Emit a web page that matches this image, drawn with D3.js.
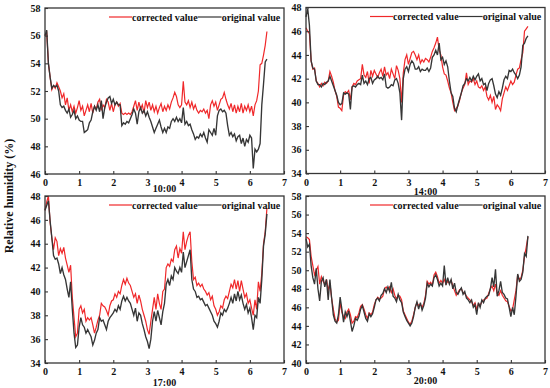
<!DOCTYPE html>
<html>
<head>
<meta charset="utf-8">
<script src="https://cdn.jsdelivr.net/npm/d3@7"></script>
<style>
body { margin: 0; background: #fff; }
text { font-family: "Liberation Serif", "Times New Roman", serif; font-weight: bold; fill: #111; }
</style>
</head>
<body>
<div id="chart"></div>
<script>
// sample spacing along the x axis (hours), first sample at 0
var timeStep = 0.05;
var xTicks = [0, 1, 2, 3, 4, 5, 6, 7];
var panelTitles = ["10:00", "14:00", "17:00", "20:00"];
var legendNames = ["corrected value", "original value"];

var yTicks10 = [46, 48, 50, 52, 54, 56, 58];
var yTicks14 = [34, 36, 38, 40, 42, 44, 46, 48];
var yTicks17 = [34, 36, 38, 40, 42, 44, 46, 48];
var yTicks20 = [40, 42, 44, 46, 48, 50, 52, 54, 56, 58];

var corrected10 = [
  56.0,56.2,54.0,53.0,52.1,52.4,52.2,52.6,52.3,52.0,
  51.5,51.8,51.0,51.5,50.6,51.0,50.5,50.9,50.4,50.8,
  51.3,50.6,50.9,50.2,50.6,51.0,50.5,51.1,50.4,50.9,
  50.7,51.2,51.4,50.6,51.0,50.8,51.4,51.2,50.6,51.1,
  50.5,51.0,51.2,50.9,51.1,50.4,50.3,50.4,50.3,50.4,
  50.3,50.5,50.9,51.3,50.6,51.2,50.7,51.0,50.4,51.3,
  50.8,51.2,50.6,51.0,50.5,50.9,50.4,50.8,51.1,50.5,
  50.9,50.6,51.0,50.7,51.2,51.5,51.9,51.6,51.0,50.8,
  51.0,52.7,51.2,51.0,51.3,50.8,51.2,50.7,51.0,50.6,
  50.4,50.6,50.5,50.7,50.4,50.6,50.0,51.0,51.3,50.9,
  51.2,50.6,51.0,51.4,51.5,51.9,51.4,51.0,50.7,51.1,
  50.5,51.0,50.4,50.9,50.5,51.1,50.4,50.9,50.6,51.0,
  50.5,50.9,50.2,51.0,51.3,52.0,53.9,54.0,54.6,55.3,
  56.3];
var original10 = [
  56.0,56.4,54.0,53.0,52.2,52.4,52.3,52.4,52.0,51.0,
  50.8,50.9,50.6,50.4,50.7,50.1,50.3,50.6,50.0,50.2,
  49.9,49.8,49.8,49.0,49.1,49.2,49.7,49.9,50.5,50.9,
  50.6,51.0,50.5,51.3,50.0,50.8,51.2,51.5,51.6,51.1,
  51.4,51.0,51.2,51.0,51.0,49.5,49.7,49.6,49.8,49.7,
  50.0,50.3,50.7,50.4,49.6,50.5,50.8,50.4,50.6,50.2,
  50.5,50.1,49.8,49.4,49.0,49.3,49.6,49.9,49.4,49.0,
  49.3,49.0,49.4,49.3,49.8,50.0,49.8,50.1,49.8,50.0,
  49.7,50.8,49.6,49.8,49.5,49.6,49.2,48.9,48.5,48.7,
  48.6,48.9,48.7,49.0,48.6,48.3,49.2,49.0,48.8,49.3,
  48.8,50.2,50.6,50.7,50.5,50.6,50.4,49.5,48.8,49.0,
  48.7,48.9,48.4,48.7,48.8,48.2,48.6,48.0,48.5,48.3,
  48.8,48.6,46.4,47.8,47.6,47.8,48.2,51.0,52.5,54.1,
  54.3];

var corrected14 = [
  46.3,46.0,45.8,43.5,42.8,42.9,41.8,41.6,41.3,41.6,
  41.4,41.7,41.6,41.8,42.6,42.2,41.7,41.0,40.5,39.6,
  39.5,39.3,40.6,40.9,40.8,41.0,40.2,41.3,41.6,41.5,
  41.8,41.9,42.0,43.2,42.3,42.1,42.6,41.6,42.7,42.2,
  42.7,42.4,42.1,42.5,42.8,42.2,43.0,42.3,42.5,42.0,
  42.8,42.4,42.0,43.1,42.7,42.0,40.0,42.5,43.6,44.0,
  43.2,43.7,44.2,44.3,44.0,43.6,44.0,43.3,43.6,43.4,
  43.7,43.6,43.4,43.8,44.3,44.6,45.0,45.5,44.4,44.0,
  43.0,42.4,42.3,41.8,41.2,40.8,40.0,39.3,39.5,39.7,
  40.2,40.8,41.2,41.5,42.5,41.5,41.8,41.7,42.0,41.5,
  41.8,41.3,41.2,41.4,41.0,41.3,40.5,40.2,40.6,40.0,
  40.5,39.4,39.8,39.6,39.3,40.3,40.8,41.3,41.0,41.4,
  41.8,41.5,41.7,42.3,42.8,42.9,43.6,44.2,46.0,46.2,
  46.4];
var original14 = [
  47.2,47.9,46.5,43.5,42.9,42.8,41.8,41.5,41.5,41.3,
  41.6,41.5,41.7,41.8,42.2,41.8,41.4,41.0,40.6,40.0,
  39.8,39.9,40.8,40.7,40.8,40.7,39.4,41.3,41.4,41.3,
  41.5,41.6,41.5,42.3,41.6,41.8,41.5,42.0,42.1,41.6,
  41.9,42.0,42.2,42.0,42.1,41.9,42.4,41.3,41.2,41.3,
  41.5,41.4,41.9,42.0,41.6,40.8,38.5,42.0,42.8,43.0,
  42.6,43.2,43.5,43.3,42.8,42.8,43.0,42.6,42.8,42.7,
  42.7,42.9,42.6,42.9,43.8,44.0,44.4,44.0,45.0,43.6,
  43.8,43.2,43.5,43.0,41.8,40.8,40.5,39.5,39.2,39.8,
  40.3,40.8,41.4,41.6,42.0,41.8,42.1,41.8,42.2,41.9,
  42.2,42.4,41.8,42.0,41.5,41.6,41.0,41.6,41.9,42.0,
  41.4,40.7,40.4,40.9,40.6,41.2,41.9,42.2,42.0,42.7,
  42.6,42.8,42.5,42.3,42.0,42.3,43.0,44.8,45.0,45.4,
  45.6];

var corrected17 = [
  46.8,47.5,48.0,45.8,44.5,43.5,44.5,44.2,43.0,43.6,
  43.2,43.7,42.8,42.2,41.6,42.2,39.5,37.8,36.2,36.5,
  38.5,38.8,38.2,38.5,37.5,37.8,37.6,37.8,37.2,36.5,
  37.0,37.6,38.0,39.0,38.8,38.7,38.4,38.0,38.8,39.2,
  39.3,39.8,39.5,40.0,39.8,40.5,41.0,40.6,41.1,40.7,
  40.5,40.0,39.5,39.8,39.0,39.7,39.2,38.5,38.0,37.5,
  36.8,36.4,37.5,38.5,39.5,38.5,39.8,39.0,38.5,40.0,
  40.2,42.0,42.3,42.1,42.7,42.5,43.5,43.8,42.8,43.6,
  43.2,45.0,43.5,44.2,44.7,45.0,42.5,41.0,41.2,40.5,
  40.7,40.4,40.6,40.2,40.0,39.7,39.9,39.3,39.6,38.8,
  38.5,38.0,38.3,38.8,38.6,39.3,39.6,39.4,40.0,40.6,
  40.3,41.0,40.2,40.9,40.0,40.9,40.2,39.5,39.8,39.0,
  39.3,38.6,38.0,39.3,38.5,40.8,40.0,41.5,44.0,45.0,
  47.0];
var original17 = [
  46.8,47.2,47.6,45.9,44.5,43.0,42.7,42.8,42.3,41.5,
  42.0,41.4,41.0,40.2,39.5,40.8,38.5,36.5,35.3,35.5,
  37.0,37.8,37.2,37.0,36.5,36.8,36.5,36.2,35.5,35.9,
  36.5,36.8,37.8,37.5,37.6,37.2,36.8,37.5,37.8,38.0,
  38.2,38.5,38.3,38.8,38.5,39.2,39.6,39.2,39.5,39.2,
  39.0,38.5,38.0,38.6,37.5,38.2,38.0,37.3,36.8,36.2,
  35.8,35.2,36.0,37.5,38.3,37.5,38.4,37.8,37.2,38.3,
  39.0,40.6,41.0,40.5,41.3,41.0,42.0,41.7,41.5,42.0,
  41.6,43.3,42.0,42.5,43.0,43.5,41.0,40.2,40.0,39.5,
  39.6,39.3,39.4,39.1,38.8,38.9,38.6,38.3,38.0,37.5,
  37.3,37.0,37.5,38.2,38.0,38.5,38.3,38.6,39.0,39.5,
  39.0,39.8,39.2,40.0,39.3,39.7,39.0,38.5,38.9,38.2,
  38.6,37.8,36.8,38.0,37.8,39.5,39.0,41.0,43.8,44.8,
  46.5];

var corrected20 = [
  53.6,53.5,53.3,51.5,50.5,49.5,50.0,50.4,48.5,49.3,
  48.8,48.5,49.0,47.8,48.6,47.0,45.8,44.8,44.4,44.6,
  46.5,45.5,45.0,44.8,45.5,45.8,45.2,44.3,44.5,45.0,
  44.9,45.4,46.1,46.3,45.8,45.2,44.8,45.4,45.2,45.5,
  46.3,46.8,47.1,46.9,47.0,47.2,48.0,48.2,47.9,48.2,
  47.6,48.0,47.3,46.9,47.3,47.2,46.8,45.6,45.2,44.8,
  44.4,44.2,44.5,45.2,46.0,46.5,46.2,46.3,46.0,46.4,
  47.3,48.8,48.5,48.7,48.4,49.5,49.8,49.3,48.6,48.9,
  48.6,49.0,48.5,48.8,48.6,48.9,48.3,47.8,47.3,47.6,
  47.9,48.0,47.6,47.5,47.2,47.0,46.8,46.6,46.2,46.5,
  45.8,46.4,46.2,46.6,46.8,46.9,47.0,47.5,48.0,48.3,
  47.8,48.5,47.5,47.3,47.8,47.3,47.0,46.7,46.6,46.1,
  45.6,45.8,46.8,47.8,49.5,49.0,49.2,50.0,51.5,52.5,
  53.6];
var original20 = [
  53.4,52.5,52.8,50.5,49.2,48.5,50.2,48.0,46.7,48.8,
  49.2,48.2,49.0,46.8,49.0,47.0,45.2,44.5,44.3,45.2,
  47.1,45.8,44.4,45.5,45.0,45.6,44.5,43.4,44.0,44.8,
  44.6,45.0,45.8,46.2,45.5,44.8,44.5,45.3,45.0,45.3,
  46.0,46.8,47.0,46.7,47.3,47.5,48.0,47.6,48.2,47.7,
  48.7,47.2,47.0,46.6,47.4,46.8,46.5,45.5,45.0,44.6,
  44.3,44.0,44.3,45.0,46.0,46.6,45.8,46.5,45.7,46.2,
  47.0,48.6,48.2,48.5,48.3,49.2,49.5,49.0,48.3,48.6,
  48.3,50.5,48.4,49.2,48.5,49.0,48.0,48.6,47.6,47.4,
  47.8,48.1,47.4,47.7,47.0,46.8,46.5,46.8,46.0,46.3,
  45.2,46.5,46.0,46.8,46.5,47.0,47.2,47.3,48.0,49.2,
  48.2,50.1,47.2,47.8,48.8,47.6,47.4,47.0,46.9,46.0,
  45.0,46.0,45.2,47.2,49.6,48.8,49.0,49.8,51.8,51.5,
  53.7];

var width = 550, height = 388;
var panelW = 239;
var panels = [
  { title: panelTitles[0], yTicks: yTicks10, corrected: corrected10, original: original10, left: 45,  top: 8,   bottom: 174, titleDy: 18 },
  { title: panelTitles[1], yTicks: yTicks14, corrected: corrected14, original: original14, left: 306, top: 7.5, bottom: 173.5, titleDy: 21 },
  { title: panelTitles[2], yTicks: yTicks17, corrected: corrected17, original: original17, left: 45,  top: 196, bottom: 363, titleDy: 23 },
  { title: panelTitles[3], yTicks: yTicks20, corrected: corrected20, original: original20, left: 306, top: 196, bottom: 363, titleDy: 21 }
];
var red = "#f0282a", dark = "#363636";

var svg = d3.select("#chart").append("svg")
  .attr("width", width).attr("height", height);

panels.forEach(function(p) {
  var g = svg.append("g").attr("transform", "translate(" + p.left + "," + p.top + ")");
  var h = p.bottom - p.top;
  var x = d3.scaleLinear().domain([0, 7]).range([0, panelW]);
  var y = d3.scaleLinear().domain(d3.extent(p.yTicks)).range([h, 0]);

  var line = d3.line()
    .x(function(d, i) { return x(i * timeStep); })
    .y(function(d) { return y(d); });

  g.append("path").datum(p.corrected)
    .attr("fill", "none").attr("stroke", red).attr("stroke-width", 1.2)
    .attr("d", line);
  g.append("path").datum(p.original)
    .attr("fill", "none").attr("stroke", dark).attr("stroke-width", 1.35)
    .attr("d", line);

  var xa = g.append("g").attr("transform", "translate(0," + h + ")")
    .call(d3.axisBottom(x).tickValues(xTicks).tickFormat(d3.format("d"))
      .tickSizeInner(-3).tickSizeOuter(0).tickPadding(5));
  var ya = g.append("g")
    .call(d3.axisLeft(y).tickValues(p.yTicks).tickFormat(d3.format("d"))
      .tickSizeInner(-3).tickSizeOuter(0).tickPadding(4.5));
  [xa, ya].forEach(function(a) {
    a.select(".domain").remove();
    a.selectAll("line").attr("stroke", dark).attr("stroke-width", 1.1);
    a.selectAll("text").style("font-size", "10px")
      .style("font-family", "'Liberation Serif', serif").style("font-weight", "bold").attr("fill", "#111");
  });

  g.append("rect").attr("width", panelW).attr("height", h)
    .attr("fill", "none").attr("stroke", dark).attr("stroke-width", 1.3);

  g.append("text").attr("x", panelW / 2).attr("y", h + p.titleDy)
    .attr("text-anchor", "middle").style("font-size", "10px").text(p.title);

  // legend: line, label, line, label
  var lx = 64, ly = 9;
  g.append("line").attr("x1", lx).attr("x2", lx + 23).attr("y1", ly).attr("y2", ly)
    .attr("stroke", red).attr("stroke-width", 1.2);
  var t1 = g.append("text").attr("x", lx + 23).attr("y", ly + 3.5)
    .style("font-size", "10px").text(legendNames[0]);
  var x2 = lx + 23 + t1.node().getComputedTextLength();
  g.append("line").attr("x1", x2).attr("x2", x2 + 24).attr("y1", ly).attr("y2", ly)
    .attr("stroke", dark).attr("stroke-width", 1.2);
  g.append("text").attr("x", x2 + 24).attr("y", ly + 3.5)
    .style("font-size", "10px").text(legendNames[1]);
});

svg.append("text")
  .attr("transform", "translate(13,196) rotate(-90)")
  .attr("text-anchor", "middle")
  .style("font-size", "12px")
  .text("Relative humidity (%)");
</script>
</body>
</html>
